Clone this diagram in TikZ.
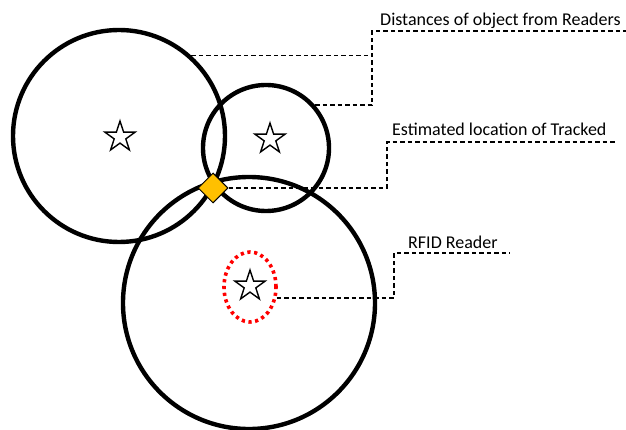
\documentclass[tikz,border=0pt]{standalone}
\usepackage{fontspec}
\setmainfont{Carlito}
\usetikzlibrary{shapes.geometric}
\definecolor{gold}{HTML}{FFC000}
\begin{document}
\begin{tikzpicture}[x=1pt,y=-1pt,
  ring/.style={circle,draw,line width=4.4pt,inner sep=0pt},
  reader/.style={star,star points=5,star point ratio=2.618,draw,line width=1.4pt,minimum size=32pt,inner sep=0pt},
  lead/.style={draw,line width=1.8pt,dash pattern=on 4.5pt off 3pt},
  lbl/.style={anchor=base west,inner sep=0pt,font=\fontsize{18}{20}\selectfont,text=black}]
\useasboundingbox[fill=white] (0,0) rectangle (626,430);
\node[ring,minimum size=212pt] (c1) at (119,136) {};
\node[ring,minimum size=126pt] (c2) at (266,148) {};
\node[ring,minimum size=252pt] (c3) at (249,303) {};
\node[reader] (s1) at (120,137) {};
\node[reader] (s2) at (270,139) {};
\node[reader] (s3) at (250,286) {};
\node[ellipse,draw=red,line width=3.6pt,dash pattern=on 3.2pt off 3.6pt,minimum width=52pt,minimum height=70pt,inner sep=0pt] (e3) at (250,287) {};
\node[diamond,draw,fill=gold,line width=1pt,minimum size=30pt,inner sep=0pt] (d) at (213,188) {};
\node[lbl] (t1) at (380,25.5) {Distances of object from Readers};
\node[lbl] (t2) at (392,135.5) {Estimated location of Tracked};
\node[lbl] (t3) at (408,248) {RFID Reader};
\coordinate (k1) at (372,31);
\coordinate (f1) at (626,31);
\coordinate (k2) at (387,142);
\coordinate (f2) at (615,142);
\coordinate (k3) at (394,253);
\coordinate (f3) at (510,253);
\draw[lead] (c2.41) -| (k1) -- (f1);
\draw[lead] (c1.48) -- (c1.48 -| k1);
\draw[lead] (d.east) -| (k2) -- (f2);
\draw[lead] (e3.-22) -| (k3) -- (f3);
\end{tikzpicture}
\end{document}
